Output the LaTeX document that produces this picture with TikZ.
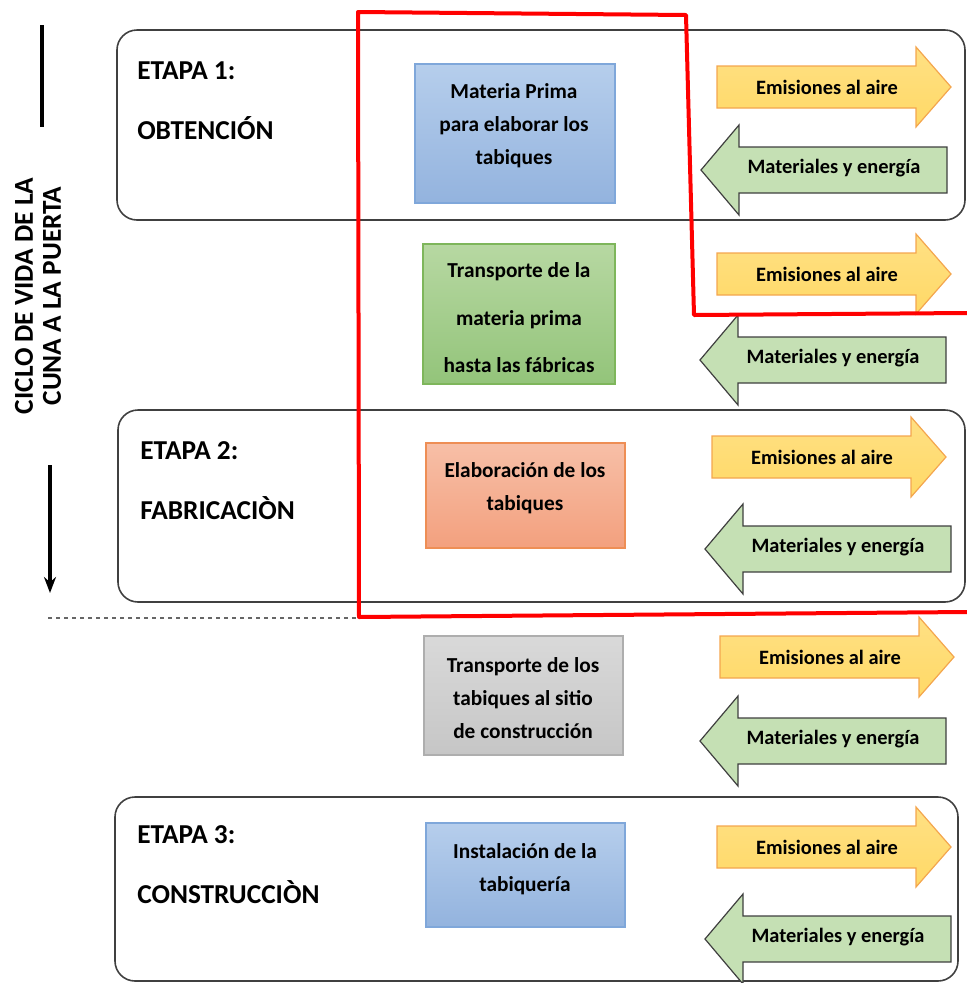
\documentclass[tikz,border=0pt]{standalone}
\usepackage{fontspec}
\setmainfont{Carlito}
\usetikzlibrary{arrows.meta}
\definecolor{bluetop}{HTML}{B6CEEC}
\definecolor{bluebot}{HTML}{93B3DE}
\definecolor{blueline}{HTML}{7FA7DA}
\definecolor{greentop}{HTML}{B7D8A2}
\definecolor{greenbot}{HTML}{93C47A}
\definecolor{greenline}{HTML}{7EB65B}
\definecolor{orangetop}{HTML}{F7BFA7}
\definecolor{orangebot}{HTML}{F3A07E}
\definecolor{orangeline}{HTML}{EE8E55}
\definecolor{graytop}{HTML}{D9D9D9}
\definecolor{graybot}{HTML}{C6C6C6}
\definecolor{grayline}{HTML}{AEAEAE}
\definecolor{emisfill}{HTML}{FFD966}
\definecolor{emistop}{HTML}{FFE084}
\definecolor{emisline}{HTML}{F4A64E}
\definecolor{matfill}{HTML}{C5E0B4}
\definecolor{matline}{HTML}{3F3F3F}
\definecolor{redline}{HTML}{FF0000}
\newcommand{\emisarrow}[3]{%
  \draw[emisarrowstyle] (#2,{#3-21}) -- ({#2+199},{#3-21}) -- ({#2+199},{#3-40}) -- ({#2+234},#3)
     -- ({#2+199},{#3+40}) -- ({#2+199},{#3+21}) -- (#2,{#3+21}) -- cycle;
  \node[arrowtext] (#1) at ({#2+110},#3) {Emisiones al aire};}
\newcommand{\matarrow}[3]{%
  \draw[matarrowstyle] (#2,#3) -- ({#2+38},{#3-45}) -- ({#2+38},{#3-23}) -- ({#2+246},{#3-23})
     -- ({#2+246},{#3+23}) -- ({#2+38},{#3+23}) -- ({#2+38},{#3+45}) -- cycle;
  \node[arrowtext] (#1) at ({#2+133},{#3-2}) {Materiales y energía};}
\begin{document}
\begin{tikzpicture}[x=0.75pt,y=-0.75pt,
  stagebox/.style={draw=black!75, line width=1.2pt, rounded corners=15pt},
  stagetext/.style={font=\fontsize{20.5}{24}\selectfont\bfseries, anchor=base west, inner sep=0pt},
  procbox/.style={line width=0.9pt},
  proctext/.style={font=\fontsize{16}{24.75}\selectfont\bfseries, align=center, inner sep=0pt},
  arrowtext/.style={font=\fontsize{15.3}{18}\selectfont\bfseries, inner sep=0pt},
  emisarrowstyle/.style={draw=emisline, line width=0.9pt, top color=emistop, bottom color=emisfill},
  matarrowstyle/.style={draw=matline, line width=0.9pt, fill=matfill},
  vtext/.style={font=\fontsize{20.5}{21}\selectfont\bfseries, align=center, inner sep=0pt, rotate=90},
  redpath/.style={draw=redline, line width=3pt, line join=round}]
\useasboundingbox (0,0) rectangle (967,983);

% stage boxes
\draw[stagebox] (117,30) rectangle (965,220);
\draw[stagebox] (118,410) rectangle (965,602);
\draw[stagebox] (115,797) rectangle (958,981);

\node[stagetext] (e1a) at (137,79) {ETAPA 1:};
\node[stagetext] (e1b) at (137,139) {OBTENCIÓN};
\node[stagetext] (e2a) at (140,459) {ETAPA 2:};
\node[stagetext] (e2b) at (140,519) {FABRICACIÒN};
\node[stagetext] (e3a) at (137,843) {ETAPA 3:};
\node[stagetext] (e3b) at (137,903) {CONSTRUCCIÒN};

% process boxes
\draw[procbox, draw=blueline, top color=bluetop, bottom color=bluebot] (415,64) rectangle (615,203);
\node[proctext] (p1) at (514,126) {Materia Prima\\para elaborar los\\tabiques};
\draw[procbox, draw=greenline, top color=greentop, bottom color=greenbot] (423,244) rectangle (615,384);
\node[proctext, font=\fontsize{16}{35.6}\selectfont\bfseries] (p2) at (519,318) {Transporte de la\\materia prima\\hasta las fábricas};
\draw[procbox, draw=orangeline, top color=orangetop, bottom color=orangebot] (426,443) rectangle (625,548);
\node[proctext] (p3) at (525,488) {Elaboración de los\\tabiques};
\draw[procbox, draw=grayline, top color=graytop, bottom color=graybot] (424,636) rectangle (623,755);
\node[proctext] (p4) at (523,698) {Transporte de los\\tabiques al sitio\\de construcción};
\draw[procbox, draw=blueline, top color=bluetop, bottom color=bluebot] (426,823) rectangle (625,927);
\node[proctext] (p5) at (525,869) {Instalación de la\\tabiquería};

% arrows
\emisarrow{em1}{717}{87}
\matarrow{ma1}{701}{170}
\emisarrow{em2}{717}{274}
\matarrow{ma2}{700}{360}
\emisarrow{em3}{712}{457}
\matarrow{ma3}{705}{549}
\emisarrow{em4}{720}{657}
\matarrow{ma4}{700}{741}
\emisarrow{em5}{717}{847}
\matarrow{ma5}{705}{939}

% red outline
\coordinate (r1) at (967,313);
\coordinate (r2) at (694,315);
\coordinate (r3) at (686,15);
\coordinate (r4) at (358,12);
\coordinate (r5) at (359,617);
\coordinate (r6) at (967,612);
\draw[redpath] (r1) -- (r2) -- (r3) -- (r4) -- (r5) -- (r6);

% dashed separator
\coordinate (d1) at (48,618);
\coordinate (d2) at (356,618);
\draw[black!60, dashed, line width=0.8pt] (d1) -- (d2);

% left markers
\coordinate (l1) at (42,25);
\coordinate (l2) at (42,127);
\draw[line width=2.4pt] (l1) -- (l2);
\coordinate (l3) at (50,465);
\coordinate (l4) at (50,593);
\draw[line width=2.4pt, -{Stealth[length=12pt,width=9pt]}] (l3) -- (l4);
\node[vtext] (cv) at (38,296) {CICLO DE VIDA DE LA\\CUNA A LA PUERTA};
\end{tikzpicture}
\end{document}
